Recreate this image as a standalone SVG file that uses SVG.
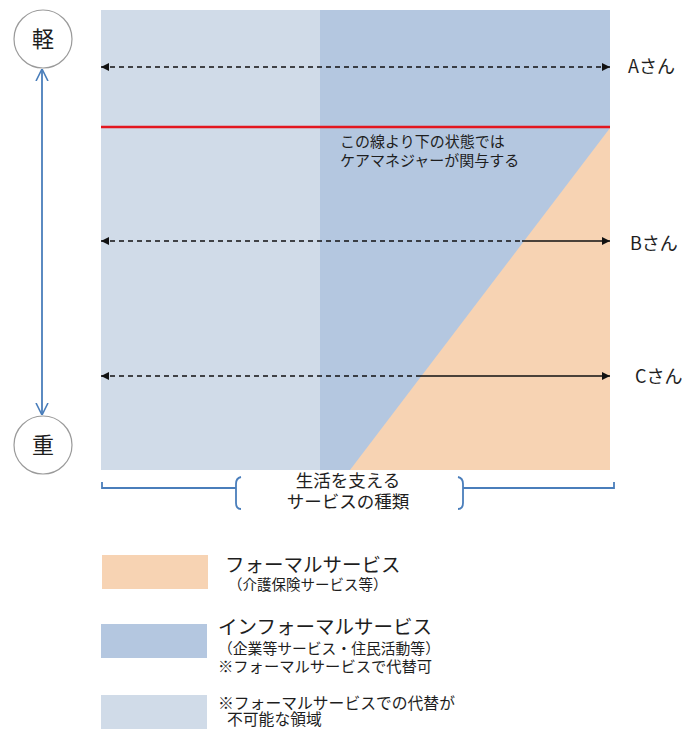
<svg xmlns="http://www.w3.org/2000/svg" width="692" height="729" viewBox="0 0 692 729">
<style>
text{font-family:"Noto Sans CJK JP","Noto Sans",sans-serif;fill:#1e1e1e}
.lab{font-size:18px}
.dash{stroke:#111;stroke-width:1.6;stroke-dasharray:5 4;fill:none}
.solid{stroke:#111;stroke-width:1.6;fill:none}
.blue{stroke:#4a7ebb;stroke-width:1.8;fill:none}
.circ{fill:#fff;stroke:#9a9a9a;stroke-width:1.2}
</style>
<defs>
<marker id="ah" viewBox="0 0 10 10" refX="10" refY="5" markerWidth="9" markerHeight="8" markerUnits="userSpaceOnUse" orient="auto-start-reverse">
<path d="M0,0 L10,5 L0,10 z" fill="#111"/>
</marker>
<marker id="open" viewBox="0 0 12 14" refX="12" refY="7" markerWidth="12" markerHeight="14" markerUnits="userSpaceOnUse" orient="auto-start-reverse">
<path d="M0,1 L12,7 L0,13" fill="none" stroke="#4a7ebb" stroke-width="1.6"/>
</marker>
</defs>

<g id="chart">
<rect x="101" y="10" width="219" height="460" fill="#d0dbe8"/>
<rect x="320" y="10" width="290" height="460" fill="#b4c7e0"/>
<polygon points="610,128 610,470 350,470" fill="#f7d3b3"/>
<line x1="101" y1="127" x2="610" y2="127" stroke="#e3161f" stroke-width="2.5"/>
<text x="340" y="147" font-size="15">この線より下の状態では</text>
<text x="340" y="166" font-size="15">ケアマネジャーが関与する</text>
</g>

<g id="node-light">
<circle class="circ" cx="43" cy="39" r="29"/>
<text x="43" y="47" font-size="22" text-anchor="middle">軽</text>
</g>
<g id="node-heavy">
<circle class="circ" cx="43" cy="445" r="29"/>
<text x="43" y="453" font-size="22" text-anchor="middle">重</text>
</g>

<g id="label-a"><text class="lab" x="628" y="73">Aさん</text></g>
<g id="label-b"><text class="lab" x="630" y="250">Bさん</text></g>
<g id="label-c"><text class="lab" x="635" y="383">Cさん</text></g>

<g id="connectors">
<line class="blue" x1="42" y1="69" x2="42" y2="415" marker-start="url(#open)" marker-end="url(#open)"/>
<line class="dash" x1="101" y1="67" x2="610" y2="67" marker-start="url(#ah)" marker-end="url(#ah)"/>
<line class="dash" x1="101" y1="241" x2="522" y2="241" marker-start="url(#ah)"/>
<line class="solid" x1="522" y1="241" x2="610" y2="241" marker-end="url(#ah)"/>
<line class="dash" x1="101" y1="376" x2="420" y2="376" marker-start="url(#ah)"/>
<line class="solid" x1="420" y1="376" x2="610" y2="376" marker-end="url(#ah)"/>
</g>

<g id="bracket">
<path class="blue" d="M102,482 V488 H236 M241,477 Q236,478 236,484 V503 Q236,509 241,509"/>
<path class="blue" d="M614,482 V488 H463 M458,477 Q463,478 463,484 V503 Q463,509 458,509"/>
<text x="348" y="487" font-size="17.5" text-anchor="middle">生活を支える</text>
<text x="348" y="508" font-size="17.5" text-anchor="middle">サービスの種類</text>
</g>

<g id="legend-formal">
<rect x="102" y="555" width="106" height="34" fill="#f7d3b3"/>
<text x="225" y="572" font-size="19.5">フォーマルサービス</text>
<text x="228" y="590" font-size="14.5">（介護保険サービス等）</text>
</g>
<g id="legend-informal">
<rect x="101" y="624" width="106" height="34" fill="#b4c7e0"/>
<text x="218" y="634" font-size="19.5">インフォーマルサービス</text>
<text x="218" y="654" font-size="14.8">（企業等サービス・住民活動等）</text>
<text x="218" y="672" font-size="15.3">※フォーマルサービスで代替可</text>
</g>
<g id="legend-irreplaceable">
<rect x="101" y="695" width="106" height="36" fill="#d0dbe8"/>
<text x="218" y="709" font-size="15.8">※フォーマルサービスでの代替が</text>
<text x="227" y="725" font-size="15.8">不可能な領域</text>
</g>
</svg>
